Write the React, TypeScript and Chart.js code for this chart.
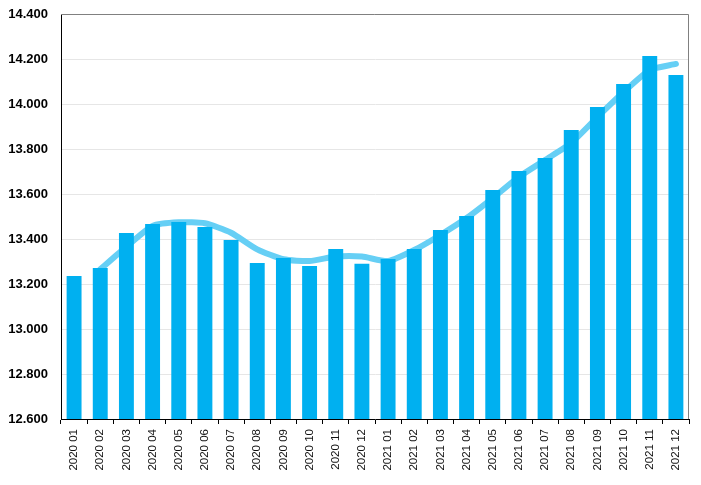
import React, { useEffect, useRef } from "react";
import { Chart, registerables } from "chart.js";

Chart.register(...registerables);

const categories = [
  "2020 01", "2020 02", "2020 03", "2020 04", "2020 05", "2020 06",
  "2020 07", "2020 08", "2020 09", "2020 10", "2020 11", "2020 12",
  "2021 01", "2021 02", "2021 03", "2021 04", "2021 05", "2021 06",
  "2021 07", "2021 08", "2021 09", "2021 10", "2021 11", "2021 12",
];

const barValues = [
  13236, 13271, 13427, 13467, 13476, 13453, 13396, 13293, 13316, 13280, 13356, 13290,
  13311, 13356, 13440, 13502, 13618, 13702, 13760, 13884, 13987, 14089, 14213, 14129,
];

const lineValues = [
  null, 13265, 13366, 13458, 13474, 13470, 13428, 13354, 13310, 13302, 13322, 13322,
  13302, 13351, 13418, 13493, 13582, 13676, 13751, 13827, 13942, 14053, 14151, 14178,
];

const yMin = 12600;
const yMax = 14400;
const yStep = 200;

const fmt = (v: number) => v.toLocaleString("de-DE");

const frame = {
  id: "frame",
  afterDraw(chart: any) {
    const { ctx, chartArea } = chart;
    ctx.save();
    ctx.strokeStyle = "#808080";
    ctx.lineWidth = 1;
    ctx.beginPath();
    ctx.moveTo(chartArea.left, chartArea.top + 0.5);
    ctx.lineTo(chartArea.right - 0.5, chartArea.top + 0.5);
    ctx.lineTo(chartArea.right - 0.5, chartArea.bottom);
    ctx.stroke();
    ctx.restore();
  },
};

export default function App() {
  const ref = useRef<HTMLCanvasElement>(null);
  useEffect(() => {
    document.body.style.margin = "0";
    const chart = new Chart(ref.current!, {
      type: "bar",
      data: {
        labels: categories,
        datasets: [
          {
            type: "bar",
            data: barValues,
            backgroundColor: "#00B0F0",
            categoryPercentage: 1,
            barPercentage: 0.57,
            order: 1,
          },
          {
            type: "line",
            data: lineValues as any,
            borderColor: "#66CFF5",
            borderWidth: 6,
            borderCapStyle: "round",
            borderJoinStyle: "round",
            pointRadius: 0,
            tension: 0.2,
            fill: false,
            order: 2,
          } as any,
        ],
      },
      options: {
        animation: false,
        responsive: false,
        maintainAspectRatio: false,
        layout: { padding: { left: 0, top: 14, right: 12, bottom: 0 } },
        plugins: { legend: { display: false }, tooltip: { enabled: false } },
        scales: {
          x: {
            offset: true,
            grid: {
              offset: true,
              drawOnChartArea: false,
              drawTicks: true,
              tickLength: 5,
              color: "#000",
            },
            border: { color: "#000", width: 1 },
            ticks: {
              minRotation: 90,
              maxRotation: 90,
              autoSkip: false,
              color: "#111",
              padding: 5,
              font: { family: "'Liberation Sans', Arial, sans-serif", size: 11.5 },
            },
            afterFit: (s: any) => { s.height = 66; },
          },
          y: {
            min: yMin,
            max: yMax,
            ticks: {
              stepSize: yStep,
              color: "#000",
              padding: 13,
              font: { family: "'Liberation Sans', Arial, sans-serif", size: 13, weight: "bold" },
              callback: (v: any) => fmt(Number(v)),
            },
            grid: { color: "#E6E6E6", drawTicks: false },
            border: { color: "#000", width: 1 },
            afterFit: (s: any) => { s.width = 61; s.paddingTop = 0; s.paddingBottom = 0; },
          },
        },
      },
      plugins: [frame],
    });
    return () => chart.destroy();
  }, []);
  return (
    <div style={{ width: 701, height: 485 }}>
      <canvas ref={ref} width={701} height={485} style={{ display: "block" }} />
    </div>
  );
}
